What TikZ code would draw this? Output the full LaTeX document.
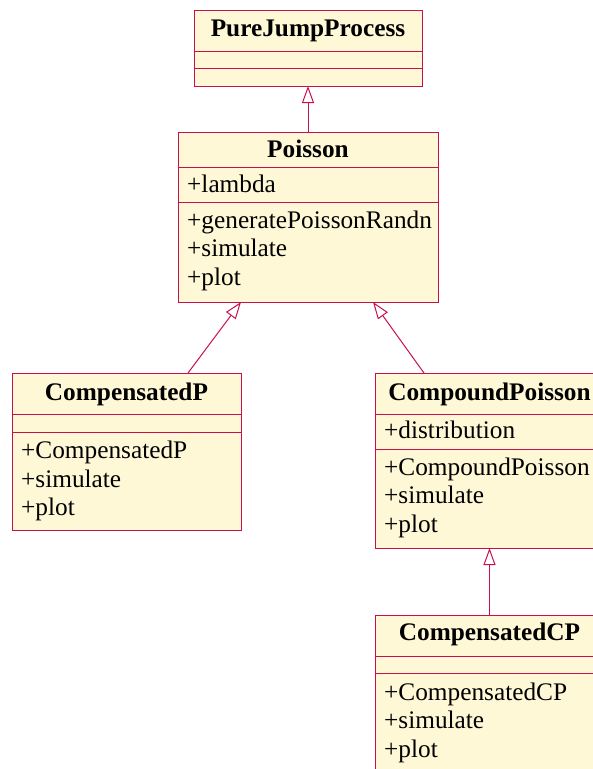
\documentclass[tikz,border=0pt]{standalone}
\usepackage{fontspec}
\setmainfont{Liberation Serif}
\usetikzlibrary{arrows.meta}
\definecolor{umlfill}{RGB}{255,248,214}
\definecolor{umlline}{RGB}{200,16,78}
\begin{document}
\begin{tikzpicture}[x=1pt,y=-1pt,
  classbox/.style={draw=umlline, fill=umlfill, line width=1pt, inner sep=0pt, outer sep=0pt,
    rectangle, anchor=north west},
  divider/.style={draw=umlline, line width=1pt},
  title/.style={font=\fontsize{25.3}{28}\selectfont\bfseries, anchor=base, inner sep=0pt},
  member/.style={font=\fontsize{25.3}{28}\selectfont, anchor=base west, inner sep=0pt},
  inherit/.style={draw=umlline, line width=1pt,
    -{Triangle[open, length=17pt, width=12pt, fill=white]}}]
\useasboundingbox (0,0) rectangle (593,769);
\clip (0,0) rectangle (593,769);

% PureJumpProcess
\node[classbox, minimum width=228pt, minimum height=76pt] (pjp) at (194,10) {};
\draw[divider] (194,51) -- (422,51);
\draw[divider] (194,68) -- (422,68);
\node[title] (pjpname) at (308,36) {PureJumpProcess};

% Poisson
\node[classbox, minimum width=260pt, minimum height=170pt] (poi) at (178,132) {};
\draw[divider] (178,167) -- (438,167);
\draw[divider] (178,202) -- (438,202);
\node[title] (poiname) at (308,157) {Poisson};
\node[member] (poia) at (187,192) {+lambda};
\node[member] (poim1) at (187,228) {+generatePoissonRandn};
\node[member] (poim2) at (187,256.5) {+simulate};
\node[member] (poim3) at (187,285) {+plot};

% CompensatedP
\node[classbox, minimum width=229pt, minimum height=157pt] (cmp) at (12,373) {};
\draw[divider] (12,414) -- (241,414);
\draw[divider] (12,432) -- (241,432);
\node[title] (cmpname) at (126.5,400) {CompensatedP};
\node[member] (cmpm1) at (21,458) {+CompensatedP};
\node[member] (cmpm2) at (21,487) {+simulate};
\node[member] (cmpm3) at (21,515) {+plot};

% CompoundPoisson
\node[classbox, minimum width=229pt, minimum height=175pt] (cpo) at (375,373) {};
\draw[divider] (375,414) -- (604,414);
\draw[divider] (375,449) -- (604,449);
\node[title] (cponame) at (489.5,400) {CompoundPoisson};
\node[member] (cpoa) at (384,438) {+distribution};
\node[member] (cpom1) at (384,475) {+CompoundPoisson};
\node[member] (cpom2) at (384,503) {+simulate};
\node[member] (cpom3) at (384,532) {+plot};

% CompensatedCP
\node[classbox, minimum width=229pt, minimum height=180pt] (ccp) at (375,615) {};
\draw[divider] (375,656) -- (604,656);
\draw[divider] (375,673) -- (604,673);
\node[title] (ccpname) at (489.5,640) {CompensatedCP};
\node[member] (ccpm1) at (384,700) {+CompensatedCP};
\node[member] (ccpm2) at (384,728) {+simulate};
\node[member] (ccpm3) at (384,757) {+plot};

% generalisation arrows
\draw[inherit] (poi.north) -- (pjp.south);
\draw[inherit] ([xshift=61.5pt]cmp.north) -- ([xshift=-67pt]poi.south);
\draw[inherit] ([xshift=-65.5pt]cpo.north) -- ([xshift=65pt]poi.south);
\draw[inherit] (ccp.north) -- (cpo.south);
\end{tikzpicture}
\end{document}
